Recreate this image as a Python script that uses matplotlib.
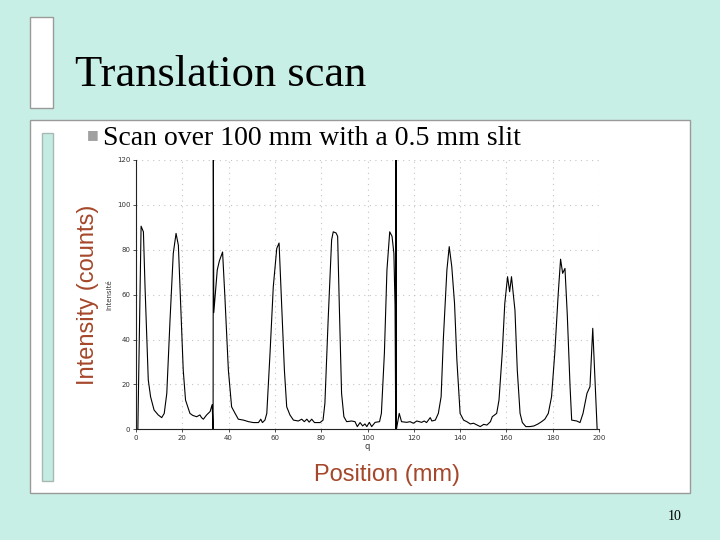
import matplotlib
matplotlib.use("Agg")
import matplotlib.pyplot as plt
from matplotlib.patches import Rectangle

# ---- data ----
position = [0.8, 2.2, 3.2, 3.9, 5.3, 6.3, 7.8, 9.6, 11.1, 12.2, 13.3, 14.7, 16.1, 17.3, 18.3,
            19.3, 20.4, 21.4, 23.3, 24.5, 26.2, 27.6, 28.3, 29.1, 30.5, 32.0, 32.9, 33.3, 33.4,
            33.6, 35.1, 36.0, 37.4, 38.4, 39.9, 41.3, 42.8, 44.2, 46.4, 48.6, 50.7, 52.9, 53.9,
            54.6, 55.7, 56.5, 57.9, 59.3, 60.8, 61.8, 62.9, 64.1, 65.1, 66.5, 68.0, 70.1, 71.6,
            72.7, 73.8, 74.8, 75.9, 77.1, 79.5, 80.8, 81.6, 83.0, 84.5, 85.2, 86.4, 87.1, 87.8,
            88.8, 89.8, 91.0, 93.1, 94.6, 95.6, 96.8, 97.9, 98.9, 99.7, 100.8, 101.8, 103.3,
            105.2, 106.0, 107.3, 108.4, 109.6, 110.6, 111.4, 111.9, 112.2, 112.3, 112.5, 113.7,
            114.7, 116.9, 118.4, 119.8, 121.3, 123.4, 124.5, 125.5, 127.1, 127.8, 129.3, 130.6,
            131.8, 132.8, 134.3, 135.3, 136.4, 137.6, 138.6, 140.0, 141.5, 142.9, 144.4, 145.8,
            147.3, 148.7, 150.2, 151.6, 153.1, 153.9, 155.8, 156.8, 158.2, 159.3, 160.5, 161.4,
            162.2, 163.7, 164.7, 165.9, 166.9, 168.4, 170.1, 171.9, 173.7, 175.2, 176.6, 178.1,
            179.5, 180.9, 182.4, 183.4, 184.3, 185.3, 186.3, 187.5, 188.2, 190.4, 191.8, 193.1,
            194.8, 196.1, 197.3, 199.2]
intensity = [0, 90.5, 88, 63.5, 22, 14.5, 8.6, 6.4, 5.2, 7.1, 16, 48.7, 78.4, 87.3, 82,
             56, 26.4, 13, 7.1, 6.2, 5.6, 6.4, 5.2, 4.5, 6.4, 7.9, 11, 0, 125,
             52, 71, 75, 79, 59, 26.4, 10, 7.1, 4.5, 4.1, 3.4, 3.0, 3.0, 4.5,
             3.0, 4.1, 7.1, 34, 63.5, 80.6, 83, 56, 26.4, 10, 6.4, 4.1, 3.7, 4.5,
             3.4, 4.5, 3.2, 4.5, 3.0, 3.0, 4.1, 11.6, 48.7, 84.4, 88, 87.5, 86, 56,
             16, 5.6, 3.4, 3.7, 3.4, 1.2, 3.0, 1.5, 2.4, 1.2, 3.1, 1.2, 3.1,
             3.4, 7.1, 34, 71, 88, 86, 78.4, 55, 0, 125, 0, 7.1,
             3.4, 3.1, 3.4, 2.7, 3.7, 3.1, 3.7, 3.0, 5.2, 3.7, 4.1, 7.1,
             14.5, 41, 71, 81.4, 72.5, 56, 31, 7.1, 4.1, 3.4, 2.4, 2.7,
             1.9, 1.2, 2.2, 1.9, 3.4, 5.6, 7.1, 13, 34, 56, 68, 61.3,
             68, 53, 26.4, 7.1, 3.0, 1.2, 1.2, 1.5, 2.4, 3.4, 4.5, 7.1,
             14.5, 34, 60.6, 75.8, 69.5, 71.7, 51, 19, 4.1, 3.7, 3.0, 7.1,
             16, 19, 45, 0]
x_ticks = [0, 20, 40, 60, 80, 100, 120, 140, 160, 180, 200]
y_ticks = [0, 20, 40, 60, 80, 100, 120]

W, H = 720, 540
def fx(px): return px / W
def fy(py): return 1 - py / H

fig = plt.figure(figsize=(7.2, 5.4), dpi=100)
fig.patch.set_facecolor('#c8efe5')

# slide decorations
fig.add_artist(Rectangle((fx(30), fy(108)), fx(53) - fx(30), fy(17) - fy(108),
                         transform=fig.transFigure, facecolor='white',
                         edgecolor='#9a9a9a', lw=1, zorder=0))
fig.add_artist(Rectangle((fx(30), fy(493)), fx(690) - fx(30), fy(120) - fy(493),
                         transform=fig.transFigure, facecolor='white',
                         edgecolor='#9a9a9a', lw=1, zorder=0))
fig.add_artist(Rectangle((fx(42), fy(481)), fx(53) - fx(42), fy(133) - fy(481),
                         transform=fig.transFigure, facecolor='#c5ece2',
                         edgecolor='#a8b8b4', lw=1, zorder=0.5))

fig.text(fx(75), fy(86), 'Translation scan', family='Liberation Serif',
         fontsize=32, color='black', va='baseline', ha='left')
fig.text(fx(92.5), fy(135), '\u25A0', family='DejaVu Sans', fontsize=9,
         color='#a0a0a0', ha='center', va='center')
fig.text(fx(103), fy(145), 'Scan over 100 mm with a 0.5 mm slit',
         family='Liberation Serif', fontsize=20, color='black',
         va='baseline', ha='left')

red = '#a5472a'
fig.text(fx(88), fy(295), 'Intensity (counts)', family='Liberation Sans',
         fontsize=17, color=red, rotation=90, ha='center', va='center')
fig.text(fx(387), fy(475), 'Position (mm)', family='Liberation Sans',
         fontsize=17, color=red, ha='center', va='center')
fig.text(fx(675), fy(516), '10', family='Liberation Serif', fontsize=10,
         color='black', ha='center', va='center')

# scanned chart
ax = fig.add_axes([fx(136), fy(429.3), fx(599) - fx(136), fy(160) - fy(429.3)])
ax.set_facecolor('none')
ax.plot(position, intensity, color='black', lw=0.8, zorder=3)
ax.set_xlim(0, 200)
ax.set_ylim(0, 120)
ax.set_xticks(x_ticks)
ax.set_yticks(y_ticks)
ax.tick_params(labelsize=5, length=2, width=0.6, colors='#333333', pad=2)
for s in ['top', 'right']:
    ax.spines[s].set_visible(False)
for s in ['left', 'bottom']:
    ax.spines[s].set_linewidth(0.8)
    ax.spines[s].set_color('#222222')
ax.grid(True, color='#c4c4c4', lw=0.8, linestyle=(0, (1, 4)))
ax.set_ylabel('Intensité', fontsize=5, color='#333333', labelpad=3)
ax.set_xlabel('q', fontsize=6, color='#333333', labelpad=1)

fig.savefig('out.png', dpi=100, facecolor=fig.get_facecolor())
